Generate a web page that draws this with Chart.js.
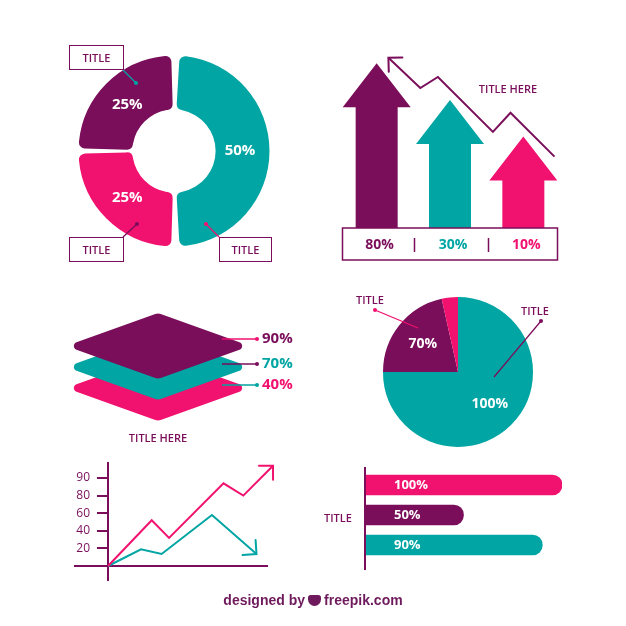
<!DOCTYPE html>
<html>
<head>
<meta charset="utf-8">
<script src="https://cdn.jsdelivr.net/npm/chart.js@4.4.1/dist/chart.umd.min.js"></script>
<style>
  body { margin: 0; width: 626px; height: 626px; position: relative; background: #fff; overflow: hidden; font-family: 'Open Sans', sans-serif; }
  canvas, .lbl, .box, svg { position: absolute; }
  .lbl { color: #7a0e5a; font-size: 11px; font-weight: 600; white-space: nowrap; transform: translate(-50%, -50%); }
  .box { border: 1.5px solid #7a0e5a; box-sizing: border-box; color: #7a0e5a; font-size: 11px; font-weight: 600; display: flex; align-items: center; justify-content: center; }
  #footer { position: absolute; left: 0; width: 626px; top: 592px; text-align: center; font-family: 'Liberation Sans', Arial, sans-serif; font-weight: bold; font-size: 14px; color: #6e1a5c; }
  #logo { display: inline-block; width: 13px; height: 11px; background: #6e1a5c; border-radius: 3px 3px 7px 7px; margin: 0 3px; vertical-align: -1px; }
</style>
</head>
<body>
<canvas id="donut" width="200" height="200" style="left:74px;top:51px"></canvas>
<canvas id="arrows" width="220" height="225" style="left:340px;top:40px"></canvas>
<canvas id="layers" width="300" height="150" style="left:8px;top:300px"></canvas>
<canvas id="pie" width="160" height="160" style="left:378px;top:292px"></canvas>
<canvas id="lines" width="230" height="130" style="left:50px;top:455px"></canvas>
<canvas id="hbars" width="210" height="115" style="left:360px;top:460px"></canvas>

<svg width="626" height="626" style="left:0;top:0;pointer-events:none">
  <g stroke-width="1.3" fill="none">
    <line x1="123" y1="70" x2="136" y2="83" stroke="#01a5a3"/>
    <line x1="123" y1="237" x2="137" y2="224" stroke="#7a0e5a"/>
    <line x1="206" y1="224" x2="219" y2="237" stroke="#f1116e"/>
    <line x1="375" y1="310" x2="418" y2="328" stroke="#f1116e"/>
    <line x1="541" y1="321" x2="494" y2="377" stroke="#7a0e5a"/>
  </g>
  <circle cx="136" cy="83" r="2" fill="#01a5a3"/>
  <circle cx="137" cy="224" r="2" fill="#7a0e5a"/>
  <circle cx="206" cy="224" r="2" fill="#f1116e"/>
  <circle cx="375" cy="310" r="2" fill="#f1116e"/>
  <circle cx="541" cy="321" r="2" fill="#7a0e5a"/>
</svg>

<div class="box" style="left:69px;top:45px;width:55px;height:25px">TITLE</div>
<div class="box" style="left:69px;top:237px;width:55px;height:25px">TITLE</div>
<div class="box" style="left:219px;top:237px;width:53px;height:25px">TITLE</div>
<div class="lbl" style="left:508px;top:88px">TITLE HERE</div>
<div class="lbl" style="left:158px;top:437px">TITLE HERE</div>
<div class="lbl" style="left:370px;top:299px">TITLE</div>
<div class="lbl" style="left:535px;top:310px">TITLE</div>
<div class="lbl" style="left:338px;top:517px">TITLE</div>
<div id="footer">designed by<span id="logo"></span>freepik.com</div>

<script>
const purple = '#7a0e5a'
const teal = '#01a5a3'
const pink = '#f1116e'

// donut
const donutLabels = ['50%', '25%', '25%']
const donutValues = [50, 25, 25]

// arrows + trend line
const arrowLabels = ['80%', '30%', '10%']
const arrowHeights = [90, 70, 50]
const trendX = [2.2, 3.65, 4.45, 6.95, 7.75, 9.75]
const trendY = [93, 76.5, 82.5, 52.5, 63, 39]

// stacked layers
const layerLabels = ['90%', '70%', '40%']
const layerLevels = [0, 1, 2]

// pie
const pieLabels = ['100%', '70%', '']
const pieValues = [75, 21.5, 3.5]

// line chart
const lineTicks = [1, 2, 3, 4, 5]
const lineTickLabels = ['20', '40', '60', '80', '90']
const pinkX = [0, 2.65, 3.7, 7.0, 8.2, 10]
const pinkY = [0, 2.6, 1.6, 4.7, 4.0, 5.7]
const tealX = [0, 2.0, 3.25, 6.3, 9.0]
const tealY = [0, 0.95, 0.68, 2.9, 0.68]

// horizontal bars
const barLabels = ['100%', '50%', '90%']
const barValues = [100, 50, 90]

Chart.defaults.animation = false
Chart.defaults.responsive = false
Chart.defaults.font.family = "'Open Sans', sans-serif"
Chart.defaults.plugins.legend.display = false
Chart.defaults.plugins.tooltip.enabled = false

const boldFont = size => `bold ${size}px 'Open Sans', sans-serif`

// white % labels in the middle of each slice
const arcLabels = (factor, size) => ({
  id: 'arcLabels',
  afterDatasetsDraw(chart) {
    const ctx = chart.ctx
    const meta = chart.getDatasetMeta(0)
    const labels = chart.data.labels
    ctx.save()
    ctx.fillStyle = '#fff'
    ctx.font = boldFont(size)
    ctx.textAlign = 'center'
    ctx.textBaseline = 'middle'
    meta.data.forEach((arc, i) => {
      if (!labels[i]) return
      const mid = (arc.startAngle + arc.endAngle) / 2
      const r = arc.innerRadius + (arc.outerRadius - arc.innerRadius) * factor
      ctx.fillText(labels[i], arc.x + Math.cos(mid) * r, arc.y + Math.sin(mid) * r)
    })
    ctx.restore()
  }
})

new Chart(document.getElementById('donut'), {
  type: 'doughnut',
  data: {
    labels: donutLabels,
    datasets: [{ data: donutValues, backgroundColor: [teal, pink, purple], borderWidth: 0, spacing: 5, borderRadius: 6 }]
  },
  options: { radius: 93, cutout: 41 },
  plugins: [arcLabels(0.5, 15)]
})

new Chart(document.getElementById('pie'), {
  type: 'pie',
  data: {
    labels: pieLabels,
    datasets: [{ data: pieValues, backgroundColor: [teal, purple, pink], borderWidth: 0 }]
  },
  options: { radius: 75 },
  plugins: [arcLabels(0.6, 14)]
})

function drawHead(ctx, from, tip, color, len) {
  const ang = Math.atan2(tip.y - from.y, tip.x - from.x)
  ctx.save()
  ctx.strokeStyle = color
  ctx.lineWidth = 2
  ctx.lineCap = 'round'
  ctx.beginPath()
  ctx.moveTo(tip.x + Math.cos(ang + Math.PI * 0.75) * len, tip.y + Math.sin(ang + Math.PI * 0.75) * len)
  ctx.lineTo(tip.x, tip.y)
  ctx.lineTo(tip.x + Math.cos(ang - Math.PI * 0.75) * len, tip.y + Math.sin(ang - Math.PI * 0.75) * len)
  ctx.stroke()
  ctx.restore()
}

// arrows drawn from each bar's geometry
const arrowBars = {
  id: 'arrowBars',
  beforeDatasetDraw(chart, args) {
    if (args.meta.type !== 'bar') return
    const ctx = chart.ctx
    const colors = chart.data.datasets[args.index].backgroundColor
    args.meta.data.forEach((bar, i) => {
      const half = bar.width / 2
      const headH = 44, headW = 34
      ctx.beginPath()
      ctx.moveTo(bar.x, bar.y)
      ctx.lineTo(bar.x + headW, bar.y + headH)
      ctx.lineTo(bar.x + half, bar.y + headH)
      ctx.lineTo(bar.x + half, bar.base)
      ctx.lineTo(bar.x - half, bar.base)
      ctx.lineTo(bar.x - half, bar.y + headH)
      ctx.lineTo(bar.x - headW, bar.y + headH)
      ctx.closePath()
      ctx.fillStyle = colors[i]
      ctx.fill()
    })
    return false
  },
  afterDraw(chart) {
    const ctx = chart.ctx
    const a = chart.chartArea
    const bars = chart.getDatasetMeta(0).data
    const colors = chart.data.datasets[0].backgroundColor
    ctx.save()
    ctx.strokeStyle = purple
    ctx.lineWidth = 1.5
    ctx.strokeRect(a.left + 2.5, a.bottom, a.right - a.left - 5, 32)
    for (let i = 0; i < bars.length - 1; i++) {
      const x = Math.round((bars[i].x + bars[i + 1].x) / 2) + 1.5
      ctx.beginPath()
      ctx.moveTo(x, a.bottom + 10)
      ctx.lineTo(x, a.bottom + 24)
      ctx.stroke()
    }
    ctx.font = boldFont(14)
    ctx.textAlign = 'center'
    ctx.textBaseline = 'middle'
    bars.forEach((bar, i) => {
      ctx.fillStyle = colors[i]
      ctx.fillText(chart.data.labels[i], bar.x + 3, a.bottom + 17)
    })
    // arrow head at the start of the trend line
    const pts = chart.getDatasetMeta(1).data
    drawHead(ctx, pts[1], pts[0], purple, 14)
    ctx.restore()
  }
}

new Chart(document.getElementById('arrows'), {
  type: 'bar',
  data: {
    labels: arrowLabels,
    datasets: [
      { data: arrowHeights, backgroundColor: [purple, teal, pink], barThickness: 42, grouped: false },
      {
        type: 'line',
        xAxisID: 'x2',
        data: trendX.map((x, i) => ({ x, y: trendY[i] })),
        borderColor: purple,
        borderWidth: 2,
        pointRadius: 0,
        tension: 0,
        clip: false
      }
    ]
  },
  options: {
    layout: { padding: { top: 5, bottom: 37, left: 0, right: 0 } },
    scales: {
      x: { display: false, offset: true },
      x2: { type: 'linear', display: false, offset: false, min: 0, max: 10 },
      y: { display: false, min: 0, max: 100 }
    }
  },
  plugins: [arrowBars]
})

// stacked rounded diamonds
const lineColors = [pink, purple, teal]
const textColors = [purple, teal, pink]

function roundedPoly(ctx, pts, radii) {
  const n = pts.length
  ctx.beginPath()
  ctx.moveTo((pts[n - 1].x + pts[0].x) / 2, (pts[n - 1].y + pts[0].y) / 2)
  for (let i = 0; i < n; i++) {
    const p = pts[i], q = pts[(i + 1) % n]
    ctx.arcTo(p.x, p.y, q.x, q.y, radii[i])
  }
  ctx.closePath()
}

const diamonds = {
  id: 'diamonds',
  beforeDatasetDraw(chart, args) {
    const ctx = chart.ctx
    const pts = args.meta.data
    const colors = [purple, teal, pink]
    for (let i = pts.length - 1; i >= 0; i--) {
      const { x, y } = pts[i]
      roundedPoly(ctx, [
        { x: x - 92, y }, { x, y: y - 33 }, { x: x + 92, y }, { x, y: y + 33 }
      ], [4, 8, 4, 8])
      ctx.fillStyle = colors[i]
      ctx.fill()
    }
    ctx.save()
    ctx.font = boldFont(15)
    ctx.textBaseline = 'middle'
    pts.forEach((p, i) => {
      const ty = p.y - (i === 0 ? 7 : 3)
      ctx.strokeStyle = lineColors[i]
      ctx.fillStyle = lineColors[i]
      ctx.lineWidth = 1.3
      ctx.beginPath()
      ctx.moveTo(p.x + 64, ty)
      ctx.lineTo(p.x + 99, ty)
      ctx.stroke()
      ctx.beginPath()
      ctx.arc(p.x + 99, ty, 2, 0, Math.PI * 2)
      ctx.fill()
      ctx.fillStyle = textColors[i]
      ctx.fillText(layerLabels[i], p.x + 104, ty)
    })
    ctx.restore()
    return false
  }
}

const layerMin = -46 / 21
new Chart(document.getElementById('layers'), {
  type: 'scatter',
  data: { datasets: [{ data: layerLevels.map(l => ({ x: 0, y: l })), pointRadius: 0 }] },
  options: {
    scales: {
      x: { display: false, min: -1, max: 1 },
      y: { display: false, reverse: true, min: layerMin, max: layerMin + 150 / 21 }
    }
  },
  plugins: [diamonds]
})

// line chart with crossed axes
const crossAxes = {
  id: 'crossAxes',
  beforeDatasetsDraw(chart) {
    const ctx = chart.ctx
    const a = chart.chartArea
    const x0 = chart.scales.x.getPixelForValue(0)
    const y0 = chart.scales.y.getPixelForValue(0)
    ctx.save()
    ctx.strokeStyle = purple
    ctx.lineWidth = 2
    ctx.beginPath()
    ctx.moveTo(x0, a.top)
    ctx.lineTo(x0, a.bottom)
    ctx.moveTo(a.left - 34, y0)
    ctx.lineTo(a.right - 5, y0)
    ctx.stroke()
    ctx.restore()
  },
  afterDatasetsDraw(chart) {
    chart.data.datasets.forEach((ds, i) => {
      const pts = chart.getDatasetMeta(i).data
      drawHead(chart.ctx, pts[pts.length - 2], pts[pts.length - 1], ds.borderColor, 14)
    })
  }
}

new Chart(document.getElementById('lines'), {
  type: 'line',
  data: {
    datasets: [
      { data: pinkX.map((x, i) => ({ x, y: pinkY[i] })), borderColor: pink, borderWidth: 2, pointRadius: 0, tension: 0, clip: false },
      { data: tealX.map((x, i) => ({ x, y: tealY[i] })), borderColor: teal, borderWidth: 2, pointRadius: 0, tension: 0, clip: false }
    ]
  },
  options: {
    layout: { padding: { top: 7, bottom: 4, left: 0, right: 7 } },
    scales: {
      x: { type: 'linear', display: false, min: 0, max: 10 },
      y: {
        min: -15 / 17.6,
        max: -15 / 17.6 + 119 / 17.6,
        afterFit: s => { s.width = 58; s.paddingTop = 0; s.paddingBottom = 0 },
        afterBuildTicks: s => { s.ticks = lineTicks.map(v => ({ value: v })) },
        border: { display: false },
        grid: { drawOnChartArea: false, tickLength: 11, color: purple, lineWidth: 2 },
        ticks: {
          padding: 7,
          color: purple,
          font: { size: 12 },
          callback: v => lineTickLabels[lineTicks.indexOf(v)]
        }
      }
    }
  },
  plugins: [crossAxes]
})

// horizontal pill bars
const barExtras = {
  id: 'barExtras',
  afterDraw(chart) {
    const ctx = chart.ctx
    const a = chart.chartArea
    ctx.save()
    ctx.strokeStyle = purple
    ctx.lineWidth = 2
    ctx.beginPath()
    ctx.moveTo(a.left, a.top - 3)
    ctx.lineTo(a.left, a.bottom + 10)
    ctx.stroke()
    ctx.fillStyle = '#fff'
    ctx.font = boldFont(13)
    ctx.textBaseline = 'middle'
    chart.getDatasetMeta(0).data.forEach((bar, i) => {
      ctx.fillText(chart.data.labels[i], a.left + 29, bar.y)
    })
    ctx.restore()
  }
}

new Chart(document.getElementById('hbars'), {
  type: 'bar',
  data: {
    labels: barLabels,
    datasets: [{
      data: barValues,
      backgroundColor: [pink, purple, teal],
      barThickness: 20,
      borderRadius: 10,
      borderSkipped: 'start',
      borderWidth: 0
    }]
  },
  options: {
    indexAxis: 'y',
    layout: { padding: { top: 10, bottom: 15, left: 5, right: 8 } },
    scales: {
      x: { display: false, min: 0, max: 100 },
      y: { display: false }
    }
  },
  plugins: [barExtras]
})
</script>
</body>
</html>
